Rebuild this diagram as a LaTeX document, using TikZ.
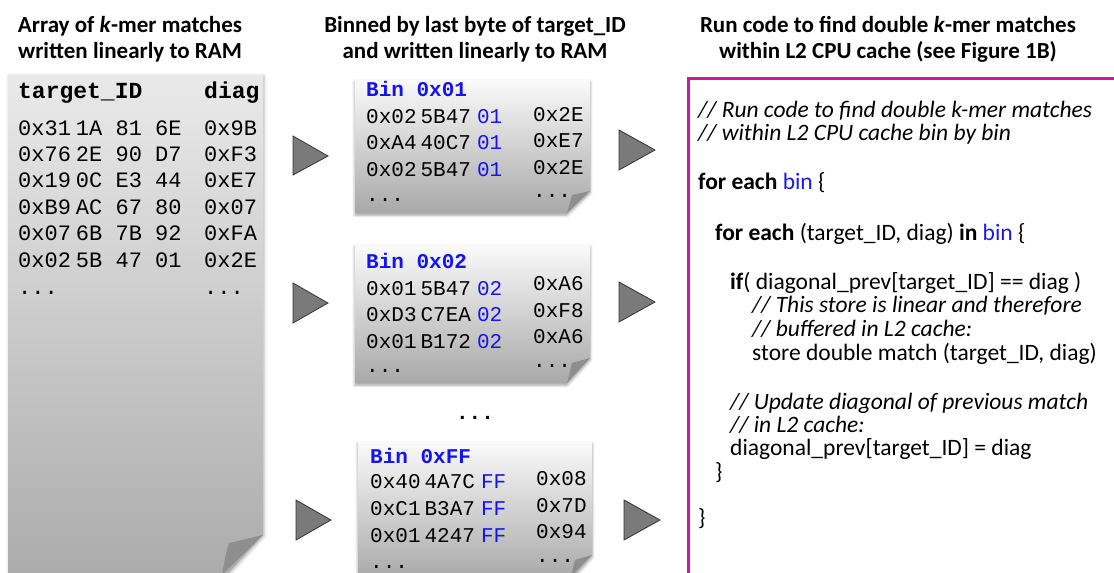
\documentclass[tikz,border=0pt]{standalone}
\usepackage{fontspec}
\setmainfont{Carlito}
\newfontfamily\monof{Liberation Mono}
\usetikzlibrary{shadows.blur}
\definecolor{binblue}{HTML}{1414F0}
\definecolor{codeblue}{HTML}{1A1AE6}
\definecolor{frame}{HTML}{CC1A9E}
\definecolor{arrowgray}{HTML}{7A7A7A}
\definecolor{flap}{HTML}{8E8E8E}
\tikzset{
  hdr/.style={font=\fontsize{23}{26}\selectfont\bfseries, anchor=base, inner sep=0pt},
  mono/.style={font=\monof\fontsize{22}{26}\selectfont, anchor=base west, inner sep=0pt},
  monob/.style={font=\monof\bfseries\fontsize{23}{26}\selectfont, anchor=base west, inner sep=0pt},
  binmono/.style={font=\monof\fontsize{21}{24}\selectfont, anchor=base west, inner sep=0pt},
  binhead/.style={font=\monof\bfseries\fontsize{21}{24}\selectfont, text=binblue, anchor=base west, inner sep=0pt},
  code/.style={font=\fontsize{23.5}{24}\selectfont, anchor=base west, inner sep=0pt},
  codei/.style={font=\fontsize{23.5}{24}\selectfont\itshape, anchor=base west, inner sep=0pt},
  tri/.style={fill=arrowgray, draw=black!80, line width=0.8pt, line join=miter},
  bigpaper/.style={top color=gray!17, bottom color=gray!66, draw=none},
  binpaper/.style={top color=gray!4, bottom color=gray!68, draw=none,
     blur shadow={shadow xshift=0pt, shadow yshift=-2pt, shadow blur radius=3pt, shadow opacity=40}},
  flapfill/.style={fill=flap, draw=none},
}
\newcommand{\bb}[1]{\textcolor{binblue}{#1}}
\begin{document}
\begin{tikzpicture}[x=1pt,y=-1pt]
\useasboundingbox (0,0) rectangle (1114,573);
\clip (0,0) rectangle (1114,573);

% headers
\node[hdr] (h1a) at (130,32) {Array of \textit{k}-mer matches};
\node[hdr] (h1b) at (130,58) {written linearly to RAM};
\node[hdr] (h2a) at (475,32) {Binned by last byte of target\_ID};
\node[hdr] (h2b) at (475,58) {and written linearly to RAM};
\node[hdr] (h3a) at (888,32) {Run code to find double \textit{k}-mer matches};
\node[hdr] (h3b) at (888,58) {within L2 CPU cache (see Figure 1B)};

% big paper
\path[bigpaper, blur shadow={shadow xshift=1pt, shadow yshift=-1pt, shadow blur radius=3pt, shadow opacity=30}]
  (8,75) -- (263,75) -- (263,535) -- (222,580) -- (8,580) -- cycle;
\path[flapfill] (263,535) -- (229,543) .. controls (226,553) .. (222,575) -- cycle;

\node[monob] (tid) at (18,98) {target\_ID};
\node[monob] (dg) at (204,98) {diag};
\foreach \a/\b/\i in {{0x31\hspace{5pt}1A 81 6E}/0x9B/0,{0x76\hspace{5pt}2E 90 D7}/0xF3/1,{0x19\hspace{5pt}0C E3 44}/0xE7/2,{0xB9\hspace{5pt}AC 67 80}/0x07/3,{0x07\hspace{5pt}6B 7B 92}/0xFA/4,{0x02\hspace{5pt}5B 47 01}/0x2E/5}{
  \node[mono] (ra\i) at (18,135+26.4*\i) {\a};
  \node[mono] (rb\i) at (204,135+26.4*\i) {\b};
}
\node[mono] (rad) at (18,294) {...};
\node[mono] (rbd) at (204,294) {...};

% bin papers
\path[binpaper] (355,80) -- (590,80) -- (590,191) -- (567,213) -- (355,213) -- cycle;
\path[flapfill] (590,191) -- (572,195) .. controls (570,203) .. (567,213) -- cycle;
\path[binpaper] (355,245) -- (590,245) -- (590,358) -- (567,383) -- (355,383) -- cycle;
\path[flapfill] (590,358) -- (572,363) .. controls (570,372) .. (567,383) -- cycle;
\path[binpaper] (358,442) -- (592,442) -- (592,555) -- (570,580) -- (358,580) -- cycle;
\path[flapfill] (592,555) -- (575,560) .. controls (573,568) .. (571,576) -- cycle;

% bin 0x01
\node[binhead] (b1h) at (366,96) {Bin 0x01};
\node[binmono] (b1r1) at (366,123) {0x02\hspace{4pt}5B47\hspace{6pt}\bb{01}};
\node[binmono] (b1r2) at (366,149.5) {0xA4\hspace{4pt}40C7\hspace{6pt}\bb{01}};
\node[binmono] (b1r3) at (366,176) {0x02\hspace{4pt}5B47\hspace{6pt}\bb{01}};
\node[binmono] (b1r4) at (366,201) {...};
\node[binmono] (b1s1) at (533,121) {0x2E};
\node[binmono] (b1s2) at (533,147) {0xE7};
\node[binmono] (b1s3) at (533,174) {0x2E};
\node[binmono] (b1s4) at (533,197) {...};

% bin 0x02
\node[binhead] (b2h) at (366,268) {Bin 0x02};
\node[binmono] (b2r1) at (366,295) {0x01\hspace{4pt}5B47\hspace{6pt}\bb{02}};
\node[binmono] (b2r2) at (366,321.5) {0xD3\hspace{4pt}C7EA\hspace{6pt}\bb{02}};
\node[binmono] (b2r3) at (366,348) {0x01\hspace{4pt}B172\hspace{6pt}\bb{02}};
\node[binmono] (b2r4) at (366,372) {...};
\node[binmono] (b2s1) at (533,290) {0xA6};
\node[binmono] (b2s2) at (533,317) {0xF8};
\node[binmono] (b2s3) at (533,343) {0xA6};
\node[binmono] (b2s4) at (533,367) {...};

\node[font=\monof\bfseries\fontsize{21}{24}\selectfont, anchor=base, inner sep=0pt] (mid) at (475,419) {...};

% bin 0xFF
\node[binhead] (b3h) at (370,463) {Bin 0xFF};
\node[binmono] (b3r1) at (370,488) {0x40\hspace{4pt}4A7C\hspace{6pt}\bb{FF}};
\node[binmono] (b3r2) at (370,515) {0xC1\hspace{4pt}B3A7\hspace{6pt}\bb{FF}};
\node[binmono] (b3r3) at (370,542) {0x01\hspace{4pt}4247\hspace{6pt}\bb{FF}};
\node[binmono] (b3r4) at (370,568) {...};
\node[binmono] (b3s1) at (536,485) {0x08};
\node[binmono] (b3s2) at (536,512) {0x7D};
\node[binmono] (b3s3) at (536,538) {0x94};
\node[binmono] (b3s4) at (536,562) {...};

% triangles
\path[tri] (293,136) -- (328,156) -- (293,175) -- cycle;
\path[tri] (293,283) -- (328,303) -- (293,323) -- cycle;
\path[tri] (296,500) -- (331,520) -- (296,540) -- cycle;
\path[tri] (619,130) -- (655,150) -- (619,170) -- cycle;
\path[tri] (619,282) -- (655,302) -- (619,322) -- cycle;
\path[tri] (624,500) -- (660,520) -- (624,540) -- cycle;

% code frame
\draw[frame, line width=3pt] (688.5,78) rectangle (1130,600);
\node[codei] (c1) at (698,117) {// Run code to find double k-mer matches};
\node[codei] (c2) at (698,140) {// within L2 CPU cache bin by bin};
\node[code] (c3) at (698,189) {\textbf{for each} \textcolor{codeblue}{bin} \{};
\node[code] (c4) at (715,240) {\textbf{for each} (target\_ID, diag) \textbf{in} \textcolor{codeblue}{bin} \{};
\node[code] (c5) at (730,289) {\textbf{if}( diagonal\_prev[target\_ID] == diag )};
\node[codei] (c6) at (752,312) {// This store is linear and therefore};
\node[codei] (c7) at (752,336) {// buffered in L2 cache:};
\node[code] (c8) at (752,360) {store double match (target\_ID, diag)};
\node[codei] (c9) at (730,409) {// Update diagonal of previous match};
\node[codei] (c10) at (730,432) {// in L2 cache:};
\node[code] (c11) at (730,455) {diagonal\_prev[target\_ID] = diag};
\node[code] (c12) at (715,479) {\}};
\node[code] (c13) at (698,525) {\}};
\end{tikzpicture}
\end{document}
